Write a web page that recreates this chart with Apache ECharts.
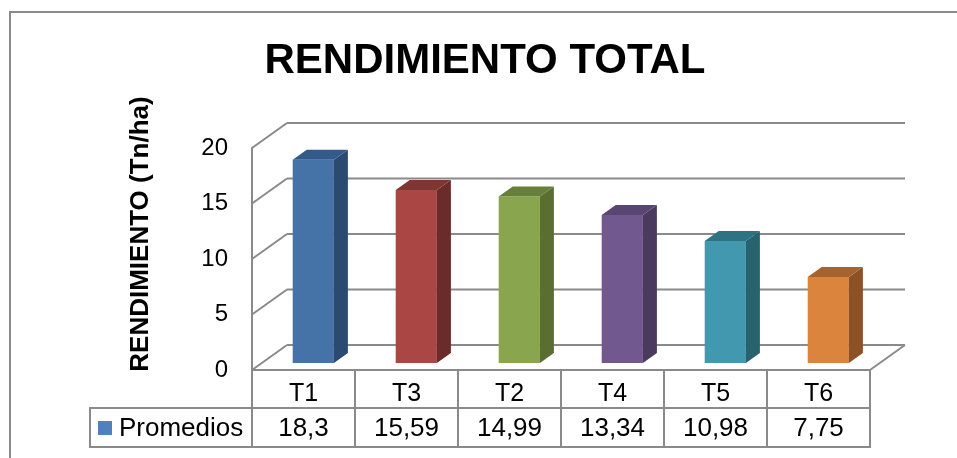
<!DOCTYPE html>
<html>
<head>
<meta charset="utf-8">
<script src="https://cdn.jsdelivr.net/npm/echarts@6/dist/echarts.min.js"></script>
<style>
html,body{margin:0;padding:0;background:#fff;}
#main{width:957px;height:458px;}
</style>
</head>
<body>
<div id="main"></div>
<script>
// datos del grafico
var categorias = ["T1", "T3", "T2", "T4", "T5", "T6"];
var promedios = [18.3, 15.59, 14.99, 13.34, 10.98, 7.75];
var ticks = [0, 5, 10, 15, 20];
var colores = ["#4572a7", "#aa4643", "#89a54e", "#71588f", "#4198af", "#db843d"];
var lados = ["#2c4a70", "#6b2b2a", "#5a6e32", "#4a3a5e", "#27626f", "#8c5126"];
var techos = ["#335a8a", "#7f3532", "#66803a", "#584670", "#2f7383", "#a6632e"];

var FONDO_X = 35, FONDO_Y = -25;   // profundidad de la pared
var GRIS = "#8a8a8a";
var FUENTE = "Liberation Sans";

var myChart = echarts.init(document.getElementById("main"));

function bordes(api) {
	var n = categorias.length;
	var w = api.size([1, 0])[0];
	return {
		izq: api.coord([0, 0])[0] - w / 2,
		der: api.coord([n - 1, 0])[0] + w / 2,
		w: w
	};
}

// paredes y lineas de division
function renderPared(params, api) {
	var b = bordes(api);
	var v = api.value(1);
	var y = api.coord([0, v])[1];
	var hijos = [
		{type: "line", shape: {x1: b.izq, y1: y, x2: b.izq + FONDO_X, y2: y + FONDO_Y}, style: {stroke: GRIS, lineWidth: 2}},
		{type: "line", shape: {x1: b.izq + FONDO_X, y1: y + FONDO_Y, x2: b.der + FONDO_X, y2: y + FONDO_Y}, style: {stroke: GRIS, lineWidth: 2}}
	];
	if (v === 0) {
		hijos.push({type: "line", shape: {x1: b.der, y1: y, x2: b.der + FONDO_X, y2: y + FONDO_Y}, style: {stroke: GRIS, lineWidth: 2}});
	}
	return {type: "group", children: hijos};
}

// barras en 3D y tabla de datos
function renderBarra(params, api) {
	var i = api.value(0);
	var v = api.value(1);
	var b = bordes(api);
	var base = api.coord([i, 0]);
	var tope = api.coord([i, v]);
	var fdx = 0.28 * FONDO_X, fdy = 0.28 * FONDO_Y;
	var bdx = 0.4 * FONDO_X, bdy = 0.4 * FONDO_Y;
	var ancho = b.w * 0.4;
	var xl = base[0] + fdx - ancho / 2, xr = xl + ancho;
	var yb = base[1] + fdy, yt = tope[1] + fdy;
	var c0 = base[0] - b.w / 2, c1 = base[0] + b.w / 2;
	var yFila1 = base[1], yFila2 = base[1] + 38, yFila3 = base[1] + 77;
	var hijos = [
		{type: "rect", shape: {x: xl, y: yt, width: ancho, height: yb - yt}, style: {fill: colores[i]}},
		{type: "polygon", shape: {points: [[xr, yt], [xr + bdx, yt + bdy], [xr + bdx, yb + bdy], [xr, yb]]}, style: {fill: lados[i]}},
		{type: "polygon", shape: {points: [[xl, yt], [xl + bdx, yt + bdy], [xr + bdx, yt + bdy], [xr, yt]]}, style: {fill: techos[i]}},
		// celdas de la tabla
		{type: "rect", shape: {x: c0, y: yFila1, width: c1 - c0, height: yFila3 - yFila1}, style: {fill: "none", stroke: GRIS, lineWidth: 2}},
		{type: "line", shape: {x1: c0, y1: yFila2, x2: c1, y2: yFila2}, style: {stroke: GRIS, lineWidth: 2}},
		{type: "text", x: base[0], y: (yFila2 + yFila3) / 2 + 1, style: {
			text: String(promedios[i]).replace(".", ","), fill: "#000", font: "26px '" + FUENTE + "'", align: "center", verticalAlign: "middle"}}
	];
	if (i === 0) {
		var lx = c0 - 162;
		hijos.push({type: "rect", shape: {x: lx, y: yFila2, width: c0 - lx, height: yFila3 - yFila2}, style: {fill: "none", stroke: GRIS, lineWidth: 2}});
		hijos.push({type: "rect", shape: {x: lx + 8, y: yFila2 + 13, width: 14, height: 14}, style: {fill: "#4f81bd"}});
		hijos.push({type: "text", x: lx + 29, y: (yFila2 + yFila3) / 2 + 1, style: {
			text: "Promedios", fill: "#000", font: "26px '" + FUENTE + "'", align: "left", verticalAlign: "middle"}});
	}
	return {type: "group", children: hijos};
}

var option = {
	backgroundColor: "#fff",
	animation: false,
	grid: {left: 252, right: 87, top: 148, bottom: 88},
	xAxis: {
		type: "category",
		data: categorias,
		axisLine: {show: true, lineStyle: {color: GRIS, width: 2}},
		axisTick: {show: false},
		axisLabel: {color: "#000", fontSize: 25, fontFamily: FUENTE, margin: 12},
		splitLine: {show: false}
	},
	yAxis: {
		type: "value",
		min: 0,
		max: 20,
		interval: 5,
		axisLine: {show: true, lineStyle: {color: GRIS, width: 2}},
		axisTick: {show: false},
		axisLabel: {color: "#000", fontSize: 24, fontFamily: FUENTE, margin: 24},
		splitLine: {show: false}
	},
	graphic: [
		{type: "rect", shape: {x: 10, y: 12, width: 1000, height: 500}, style: {fill: "none", stroke: GRIS, lineWidth: 2}},
		{type: "text", x: 485, y: 61, style: {text: "RENDIMIENTO TOTAL", fill: "#000", font: "bold 42px '" + FUENTE + "'", align: "center", verticalAlign: "middle"}},
		{type: "text", x: 141, y: 234, rotation: Math.PI / 2, style: {text: "RENDIMIENTO (Tn/ha)", fill: "#000", font: "bold 26px '" + FUENTE + "'", align: "center", verticalAlign: "middle"}}
	],
	series: [
		{
			type: "custom",
			renderItem: renderPared,
			data: ticks.map(function (t) { return [0, t]; }),
			z: 1,
			silent: true
		},
		{
			type: "custom",
			renderItem: renderBarra,
			data: promedios.map(function (v, i) { return [i, v]; }),
			z: 3,
			silent: true
		}
	]
};

myChart.setOption(option);
</script>
</body>
</html>
